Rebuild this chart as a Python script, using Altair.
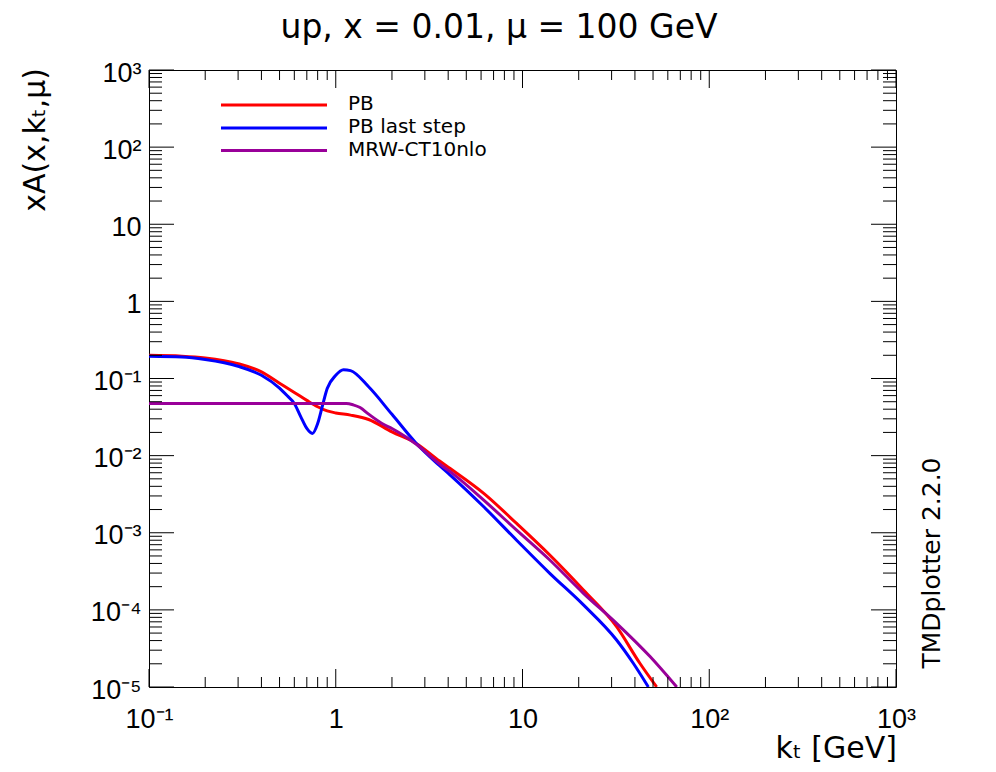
import altair as alt
import pandas as pd

series_names = ["PB", "PB last step", "MRW-CT10nlo"]
series_colors = ["#ff0000", "#0000ff", "#990099"]

pb_kt = [0.1, 0.15, 0.2, 0.3, 0.4, 0.5, 0.6, 0.7, 0.8, 0.9, 1.0, 1.2, 1.5, 2.0, 2.7, 3.6, 4.1,
         6.2, 9.3, 14, 21.2, 31.9, 42.5, 52.3]
pb_val = [0.200, 0.195, 0.185, 0.156, 0.122, 0.087, 0.066, 0.052, 0.043, 0.038, 0.0358, 0.0335,
          0.0294, 0.0203, 0.0144, 0.0085, 0.0068, 0.00324, 0.00132, 5.14e-4, 1.81e-4, 6.05e-5,
          2.03e-5, 1.0e-5]

last_kt = [0.1, 0.15, 0.2, 0.3, 0.4, 0.5, 0.55, 0.6, 0.65, 0.7, 0.75, 0.8, 0.85, 0.9, 1.0, 1.1,
           1.2, 1.5, 2.0, 2.7, 3.6, 4.1, 6.2, 9.3, 14, 21.2, 31.9, 39.2, 47.2]
last_val = [0.194, 0.19, 0.176, 0.144, 0.110, 0.075, 0.0596, 0.0474, 0.0318, 0.0225, 0.0194,
            0.0261, 0.045, 0.074, 0.110, 0.130, 0.1265, 0.078, 0.0343, 0.0144, 0.0074, 0.00559,
            0.00217, 8.0e-4, 2.98e-4, 1.16e-4, 4.07e-5, 2.03e-5, 1.0e-5]

mrw_kt = [0.1, 0.3, 0.6, 1.0, 1.14, 1.24, 1.35, 1.5, 1.8, 2.0, 2.4, 2.7, 3.6, 4.1, 6.2, 9.3,
          14, 21.2, 31.9, 48.2, 67]
mrw_val = [0.0474, 0.0474, 0.0474, 0.0474, 0.0474, 0.0455, 0.042, 0.0345, 0.0255, 0.0225,
           0.0172, 0.0140, 0.0078, 0.0062, 0.00265, 0.00108, 4.43e-4, 1.64e-4, 6.7e-5,
           2.48e-5, 1.0e-5]

x_tick_values = [0.1, 1, 10, 100, 1000]
x_tick_labels = ["10⁻¹", "1", "10", "10²", "10³"]
y_tick_values = [1e-5, 1e-4, 1e-3, 1e-2, 1e-1, 1, 10, 100, 1000]
y_tick_labels = ["10⁻⁵", "10⁻⁴", "10⁻³", "10⁻²", "10⁻¹", "1", "10", "10²", "10³"]
x_minor = [m * 10.0 ** e for e in range(-1, 3) for m in range(2, 10)]
y_minor = [m * 10.0 ** e for e in range(-5, 3) for m in range(2, 10)]

title_text = "up, x = 0.01, μ = 100 GeV"
xtitle_text = "kₜ [GeV]"
ytitle_text = "xA(x,kₜ,μ)"
version_text = "TMDplotter 2.2.0"

W, H = 747, 617
TXT = "DejaVu Sans"
NUM = "Liberation Sans"


def label_expr(values, labels):
    import math
    expr = "''"
    for v, lab in zip(values, labels):
        e = round(math.log10(v))
        expr = f"round(log(datum.value)/LN10) == {e} ? '{lab}' : ({expr})"
    return expr


xscale = alt.Scale(type="log", domain=[0.1, 1000], nice=False)
yscale = alt.Scale(type="log", domain=[1e-5, 1000], nice=False)

xaxis = alt.Axis(values=x_tick_values, labelExpr=label_expr(x_tick_values, x_tick_labels),
                 title=None, grid=False, ticks=False, domain=False,
                 labelFont=NUM, labelFontSize=27, labelColor="black", labelPadding=40,
                 labelBaseline="alphabetic", labelFlush=False, labelOverlap=False,
                 labelBound=False)
yaxis = alt.Axis(values=y_tick_values, labelExpr=label_expr(y_tick_values, y_tick_labels),
                 title=None, grid=False, ticks=False, domain=False,
                 labelFont=NUM, labelFontSize=27, labelColor="black", labelPadding=8,
                 labelBaseline="alphabetic", labelOffset=11, labelFlush=False,
                 labelOverlap=False, labelBound=False)

X = alt.X("kt:Q", scale=xscale, axis=xaxis)
Y = alt.Y("val:Q", scale=yscale, axis=yaxis)

color = alt.Color("series:N", scale=alt.Scale(domain=series_names, range=series_colors),
                  legend=None)

layers = []
for name, kts, vals in [(series_names[0], pb_kt, pb_val),
                        (series_names[1], last_kt, last_val),
                        (series_names[2], mrw_kt, mrw_val)]:
    df = pd.DataFrame({"kt": kts, "val": vals, "series": name})
    layers.append(
        alt.Chart(df).mark_line(strokeWidth=3, clip=True, interpolate="monotone").encode(
            x=X, y=Y, color=color,
        )
    )

# inward ticks on all four sides
xmaj = pd.DataFrame({"kt": x_tick_values})
xmin = pd.DataFrame({"kt": x_minor})
ymaj = pd.DataFrame({"val": y_tick_values})
ymin = pd.DataFrame({"val": y_minor})


def xticks(df, length):
    base = alt.Chart(df).mark_rule(color="black", strokeWidth=1)
    return [base.encode(x=X, y=alt.value(H), y2=alt.value(H - length)),
            base.encode(x=X, y=alt.value(0), y2=alt.value(length))]


def yticks(df, length):
    base = alt.Chart(df).mark_rule(color="black", strokeWidth=1)
    return [base.encode(y=Y, x=alt.value(0), x2=alt.value(length)),
            base.encode(y=Y, x=alt.value(W - length), x2=alt.value(W))]


layers += xticks(xmaj, 18) + xticks(xmin, 10) + yticks(ymaj, 25) + yticks(ymin, 13)

# legend
leg_y = [35, 58, 80.5]
for name, col, ly in zip(series_names, series_colors, leg_y):
    ldf = pd.DataFrame({"series": [name]})
    layers.append(alt.Chart(ldf).mark_rule(color=col, strokeWidth=3).encode(
        x=alt.value(72), x2=alt.value(178), y=alt.value(ly)))
    layers.append(alt.Chart(ldf).mark_text(align="left", baseline="middle", font=TXT,
                                           fontSize=20, color="black").encode(
        x=alt.value(199), y=alt.value(ly - 1), text="series:N"))

# texts
tdf = pd.DataFrame({"t": [title_text]})
layers.append(alt.Chart(tdf).mark_text(align="center", baseline="alphabetic", font=TXT,
                                       fontSize=33, color="black").encode(
    x=alt.value(350), y=alt.value(-32), text="t:N"))
xtdf = pd.DataFrame({"t": [xtitle_text]})
layers.append(alt.Chart(xtdf).mark_text(align="right", baseline="alphabetic", font=TXT,
                                        fontSize=30, color="black").encode(
    x=alt.value(748), y=alt.value(688), text="t:N"))
ytdf = pd.DataFrame({"t": [ytitle_text]})
layers.append(alt.Chart(ytdf).mark_text(align="right", baseline="alphabetic", font=TXT,
                                        fontSize=30, angle=270, color="black").encode(
    x=alt.value(-104), y=alt.value(-2), text="t:N"))
vdf = pd.DataFrame({"t": [version_text]})
layers.append(alt.Chart(vdf).mark_text(align="center", baseline="alphabetic", font=TXT,
                                       fontSize=25, angle=270, color="black").encode(
    x=alt.value(791), y=alt.value(493), text="t:N"))

chart = alt.layer(*layers).properties(
    width=W, height=H,
    autosize=alt.AutoSizeParams(type="none"),
    padding={"left": 141, "top": 62, "right": 92, "bottom": 80},
    background="white",
).configure_view(stroke="black", strokeWidth=1)

chart.save("out.html", embed_options={"renderer": "svg", "actions": False})
